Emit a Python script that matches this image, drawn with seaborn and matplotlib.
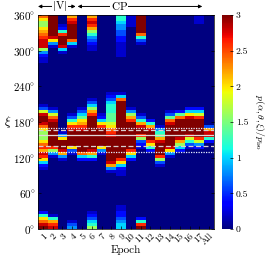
import numpy as np
import pandas as pd
import matplotlib
matplotlib.use('Agg')
import matplotlib.pyplot as plt
import seaborn as sns

# epochs on the x axis
epochs = [str(i) for i in range(1, 18)] + ['All']

# density per 5 degree bin of xi, read top (360 deg) to bottom (0 deg)
# each hex digit d gives p/p_iso = d / 5  (0 .. 3)
# groups of 12 bins = 60 deg each
vi_levels = [
    'ca88abcdeee8 421100000000 000000139eff eca888acdbed a52100000000 00000026acef',
    'fffffffea410 000000000000 0000000149ce ffffffffd841 000000000000 000000016bde',
    '000126dfffe5 100000000000 000000000000 00014afffeb4 100000000000 000000000000',
    'bdefffffc510 000000000000 000000000136 adefffffa310 000000000000 000000000134',
]
cp_levels = [
    '000000000000 000000000000 00000001357a bdefffffffc5 200000000000 000000000000',
    'bdedb8643211 000000000000 00001358bdff fffffffffeb6 200000000000 000000123568',
    '000000000000 000000000000 000000000125 adffffffa410 000000000000 000000000000',
    '000000000000 000000000000 001235666777 9acdefffffff feb410000000 000000000000',
    '665443322111 110000000000 0015cfffffff ffffffffffff da5211000000 000011223455',
    '111100000000 000000000000 0000000148bd fffffffffda5 200000000000 000000000000',
    'ffffffc63100 000000000000 000000000136 beffd8321000 000000000000 0000000026df',
    '000000000000 000000000000 000000000002 6befffda6200 000000000000 000000000000',
    '000000000000 000000000000 000000000000 01467beffffd 831000000000 000000000000',
    '000000000000 000000000000 00000000137c efffffffea41 000000000000 000000000000',
    '000000000000 000000000000 0000000027cf fffffeb85200 000000000000 000000000000',
    '000000000000 000000000000 000000025aef ffffe9631000 000000000000 000000000000',
    '111000000000 000000000000 0000000259df fffffd942000 000000000000 000000000000',
]
all_levels = [
    '000000000000 000000000000 000000000000 03bee6200000 000000000000 000000000000',
]

bin_deg = 5
ytick_deg = [0, 60, 120, 180, 240, 300, 360]
cbar_ticks = [0, 0.5, 1, 1.5, 2, 2.5, 3]
cbar_ticklabels = ['0', '0.5', '1', '1.5', '2', '2.5', '3']

# reference orientations drawn across the map (deg)
dotted_deg = [170, 129.5]
dashed_deg = [166.5, 140]
solid_deg = [158]


def decode(s):
    s = s.replace(' ', '')
    return [int(c, 16) / 5 for c in s]


cols = vi_levels + cp_levels + all_levels
nbins = 360 // bin_deg
centers = 360 - bin_deg * (np.arange(nbins) + 0.5)
data = pd.DataFrame({ep: decode(s) for ep, s in zip(epochs, cols)}, index=centers)

plt.rcParams['font.family'] = ['cmr10', 'DejaVu Serif']
plt.rcParams['mathtext.fontset'] = 'cm'
plt.rcParams['axes.unicode_minus'] = False

fig = plt.figure(figsize=(2.66, 2.61), dpi=100)
ax = fig.add_axes([0.1429, 0.1226, 0.6617, 0.8199])
cax = fig.add_axes([0.8346, 0.1226, 0.0414, 0.8199])

sns.heatmap(data, ax=ax, cmap='jet', vmin=0, vmax=3, cbar_ax=cax,
            xticklabels=epochs, yticklabels=False)

def ypos(deg):
    return (360 - deg) / bin_deg

for d in dotted_deg:
    ax.axhline(ypos(d), color='#e8f0ff', lw=0.9, ls=(0, (1, 1)))
for d in dashed_deg:
    ax.axhline(ypos(d), color='#d8d0d0', lw=0.9, ls=(0, (4, 2)))
for d in solid_deg:
    ax.axhline(ypos(d), color='#e0d8d8', lw=0.9)

ax.set_yticks([ypos(d) for d in ytick_deg])
ax.set_yticklabels([r'$%d\!^\circ$' % d for d in ytick_deg], fontsize=8)
ax.set_xticks(np.arange(len(epochs)) + 0.5)
ax.set_xticklabels(epochs, rotation=45, ha='right', rotation_mode='anchor', fontsize=7)
ax.tick_params(axis='both', direction='in', length=2, width=0.5, right=True, pad=2)
for sp in ax.spines.values():
    sp.set_visible(True)
    sp.set_linewidth(0.5)

ax.set_xlabel('Epoch', fontsize=8)
ax.xaxis.set_label_coords(0.5, -0.075)
ax.set_ylabel(r'$\xi$', fontsize=9, rotation=0, va='center')
ax.yaxis.set_label_coords(-0.17, 0.5)

# |V| and CP ranges above the map
tr = ax.get_xaxis_transform()
arrow = dict(arrowstyle='<|-|>', color='k', lw=0.7, shrinkA=0, shrinkB=0, mutation_scale=5)
ax.annotate('', xy=(3.85, 1.04), xytext=(0.0, 1.04), xycoords=tr, textcoords=tr,
            arrowprops=arrow, annotation_clip=False)
ax.annotate('', xy=(16.8, 1.04), xytext=(4.05, 1.04), xycoords=tr, textcoords=tr,
            arrowprops=arrow, annotation_clip=False)
ax.text(2.25, 1.04, r'$|\mathrm{V}|$', transform=tr, ha='center', va='center', fontsize=8,
        bbox=dict(fc='white', ec='none', pad=0.3))
ax.text(8.3, 1.04, r'$\mathrm{CP}$', transform=tr, ha='center', va='center', fontsize=8,
        bbox=dict(fc='white', ec='none', pad=0.3))

cax.set_yticks(cbar_ticks)
cax.set_yticklabels(cbar_ticklabels, fontsize=7)
cax.tick_params(direction='in', length=2, width=0.5, pad=2)
cax.text(3.4, 0.5, r'$p(\alpha,\theta,\xi)/p_{\rm iso}$', transform=cax.transAxes,
         rotation=270, ha='center', va='center', fontsize=7)

fig.savefig('out.png', dpi=100)
